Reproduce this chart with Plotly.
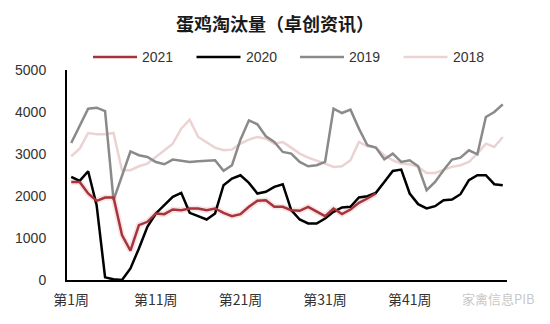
import plotly.graph_objects as go

weeks = list(range(1, 53))

culled_2021 = [2336, 2336, 2059, 1885, 1964, 1964, 1069, 697, 1307, 1386,
               1584, 1568, 1679, 1663, 1703, 1703, 1663, 1703, 1600, 1520,
               1568, 1742, 1885, 1901, 1742, 1742, 1663, 1647, 1742, 1623,
               1520, 1703, 1568, 1679, 1837, 1940, 2059]

culled_2020 = [2455, 2360, 2589, 1782, 63, 16, 0, 277, 752, 1267,
               1584, 1782, 1980, 2075, 1600, 1520, 1441, 1584, 2257, 2415,
               2494, 2312, 2059, 2099, 2217, 2281, 1663, 1441, 1346, 1346,
               1465, 1623, 1726, 1742, 1964, 1996, 2075, 2336, 2597, 2629,
               2059, 1806, 1703, 1758, 1901, 1917, 2043, 2376, 2494, 2494,
               2281, 2257]

culled_2019 = [3263, 3683, 4079, 4103, 4023, 1900, 2480, 3060, 2970, 2930,
               2810, 2756, 2867, 2835, 2810, 2827, 2835, 2851, 2598, 2732,
               3342, 3801, 3706, 3421, 3287, 3049, 3009, 2811, 2708, 2732,
               2811, 4079, 3976, 4055, 3604, 3207, 3152, 2875, 3009, 2811,
               2851, 2708, 2138, 2336, 2614, 2867, 2914, 3088, 2993, 3881,
               4000, 4182]

culled_2018 = [2946, 3128, 3500, 3468, 3468, 3500, 2613, 2613, 2708, 2772,
               2930, 3088, 3247, 3603, 3817, 3405, 3286, 3152, 3088, 3104,
               3247, 3342, 3405, 3365, 3247, 3286, 3152, 3009, 2914, 2851,
               2772, 2693, 2708, 2851, 3286, 3183, 3152, 2970, 2851, 2772,
               2756, 2693, 2550, 2550, 2613, 2693, 2732, 2811, 3009, 3247,
               3168, 3405]

series_names = ["2021", "2020", "2019", "2018"]
series_values = [culled_2021, culled_2020, culled_2019, culled_2018]
series_colors = ["#A8343B", "#000000", "#8A8A8A", "#EBD3D3"]

tick_weeks = [1, 11, 21, 31, 41]
tick_text = [f"第{w}周" for w in tick_weeks]
y_ticks = [0, 1000, 2000, 3000, 4000, 5000]

FONT = "Liberation Sans, Noto Sans CJK SC, sans-serif"
L, R, T, B = 67, 43, 70, 44
W, H = 550, 324
PW, PH = W - L - R, H - T - B


def px_x(px):
    """Pixel column -> paper x."""
    return (px - L) / PW


def px_y(py):
    """Pixel row -> paper y."""
    return (H - B - py) / PH


fig = go.Figure()

# soft halo under the 2021 line
fig.add_trace(go.Scatter(
    x=weeks[:len(culled_2021)], y=culled_2021, mode="lines",
    line=dict(color="rgba(225,150,160,0.25)", width=6),
    showlegend=False, hoverinfo="skip"))

# older years first so 2021 sits on top
for name, vals, color in reversed(list(zip(series_names, series_values, series_colors))):
    fig.add_trace(go.Scatter(
        x=weeks[:len(vals)], y=vals, mode="lines", name=name,
        line=dict(color=color, width=2.5), showlegend=False))

# legend row: short line sample followed by the year
legend_y = px_y(57)
for i, (name, color) in enumerate(zip(series_names, series_colors)):
    x0 = 93 + i * 103.5
    fig.add_shape(type="line", xref="paper", yref="paper",
                  x0=px_x(x0), x1=px_x(x0 + 44), y0=legend_y, y1=legend_y,
                  line=dict(color=color, width=2.5))
    fig.add_annotation(text=name, xref="paper", yref="paper",
                       x=px_x(x0 + 47), y=legend_y, xanchor="left", yanchor="middle",
                       showarrow=False, font=dict(size=14, color="#333333"))

fig.update_layout(
    width=W, height=H,
    margin=dict(l=L, r=R, t=T, b=B),
    paper_bgcolor="white", plot_bgcolor="white",
    font=dict(family=FONT, size=13, color="#333333"),
    title=dict(text="<b>蛋鸡淘汰量（卓创资讯）</b>", x=0.5, xanchor="center",
               y=0.925, yanchor="middle",
               font=dict(family="Noto Sans CJK SC", size=18, color="#1a1a1a")),
    showlegend=False,
)

fig.update_xaxes(
    range=[0.5, 52.5], tickvals=tick_weeks, ticktext=tick_text,
    showgrid=False, zeroline=False, showline=True, linecolor="#000000",
    linewidth=2, ticks="", ticklabelstandoff=6,
    tickfont=dict(family="Noto Sans CJK SC", size=14, color="#333333"))

fig.update_yaxes(
    range=[0, 5000], tickvals=y_ticks, showgrid=False, zeroline=False,
    showline=True, linecolor="#000000", linewidth=2, ticks="",
    ticklabelstandoff=16, tickfont=dict(size=14, color="#333333"))

fig.add_annotation(
    text="家禽信息PIB", xref="paper", yref="paper", x=px_x(537), y=px_y(298),
    xanchor="right", yanchor="middle", showarrow=False,
    font=dict(family="Noto Sans CJK SC", size=13, color="rgba(150,150,150,0.55)"))

fig.write_html("out.html")
